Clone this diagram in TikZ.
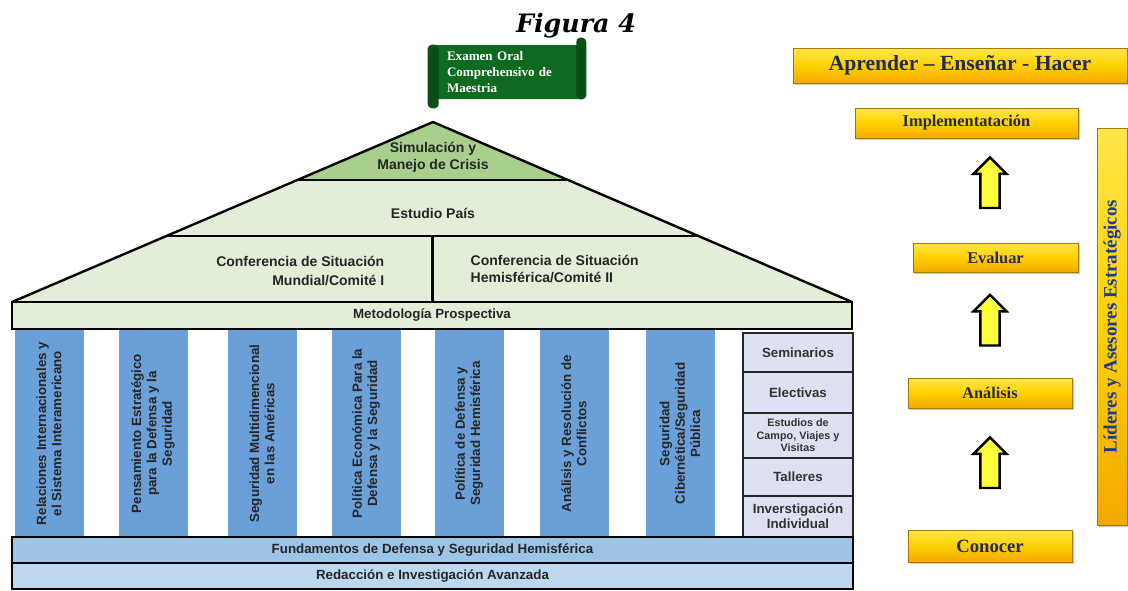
\documentclass[tikz,border=0pt]{standalone}
\usepackage{fontspec}
\setmainfont{Liberation Serif}
\newfontfamily\arialfont{Liberation Sans}
\newfontfamily\titlefont{DejaVu Serif}
\usetikzlibrary{calc,shapes.arrows,shadows}

\definecolor{roofgreen}{HTML}{E2EED8}
\definecolor{topgreen}{HTML}{A8CF8C}
\definecolor{pillarblue}{HTML}{6B9FD8}
\definecolor{basemid}{HTML}{9DC3E6}
\definecolor{baselight}{HTML}{BDD7EE}
\definecolor{sidelav}{HTML}{DDE1F1}
\definecolor{scrollgreen}{HTML}{0E6A1E}
\definecolor{goldtop}{HTML}{FFE74A}
\definecolor{goldmid}{HTML}{FFD000}
\definecolor{goldbot}{HTML}{F2A900}
\definecolor{arrowyellow}{HTML}{FFFF3C}
\definecolor{navytext}{HTML}{232A4E}
\definecolor{bluetext}{HTML}{1E3C8C}

\tikzset{
  pillar/.style={rotate=90,fill=pillarblue,minimum width=155pt,minimum height=51.75pt,inner sep=2pt,align=center,
    font=\arialfont\bfseries\fontsize{10}{11.5}\selectfont,text=black!85},
  sidebox/.style={draw=black!85,line width=1.4pt,fill=sidelav,minimum width=82.5pt,anchor=north,outer sep=0pt,
    align=center,inner sep=1pt,font=\arialfont\bfseries\fontsize{10}{11.3}\selectfont,text=black!80},
  baseband/.style={draw=black,line width=1.5pt,minimum width=630.75pt,minimum height=19.5pt,anchor=north,outer sep=0pt,
    inner sep=0pt,font=\arialfont\bfseries\fontsize{10}{12}\selectfont,text=black!85},
  roofline/.style={line width=1.8pt,line join=round},
  rooftext/.style={font=\arialfont\bfseries\fontsize{10.5}{13}\selectfont,text=black!85},
  scrollbox/.style={fill=scrollgreen,rounded corners=2pt,minimum width=114pt,minimum height=40.5pt,text width=93pt,
    inner xsep=10.5pt,align=left,text=white,font=\bfseries\fontsize{9.8}{12}\selectfont},
  goldbtn/.style={top color=goldtop,bottom color=goldbot,middle color=goldmid,draw=goldbot!70!black,line width=0.3pt,
    inner sep=0pt,outer sep=0pt,text=navytext,
    drop shadow={shadow xshift=1.2pt,shadow yshift=-1.5pt,opacity=0.35,fill=black!60}},
  upward/.style={single arrow,rotate=90,fill=arrowyellow,draw=black,line width=1.8pt,minimum height=38pt,inner sep=6.3pt,
    single arrow head extend=5.2pt,single arrow head indent=0pt}
}

\begin{document}
\begin{tikzpicture}[x=0.75pt,y=-0.75pt]
  \useasboundingbox (0,0) rectangle (1128,590);

  % title and exam banner
  \node[font=\titlefont\bfseries\itshape\fontsize{19}{22}\selectfont,anchor=base] (title) at (576,32) {Figura 4};
  \node[scrollbox] (exam) at (509,72) {Examen Oral\\Comprehensivo de\\Maestria};
  \fill[scrollgreen!75!black,rounded corners=3pt] ($(exam.north west)+(-5,0)$) rectangle ($(exam.south west)+(6,9)$);
  \fill[scrollgreen!75!black,rounded corners=3pt] ($(exam.north east)+(-9,-7)$) rectangle ($(exam.south east)+(1,0)$);

  % roof
  \coordinate (eaveL) at (12,302);
  \coordinate (apex) at (433,122);
  \coordinate (eaveR) at (852,302);
  \coordinate (simL) at ($(eaveL)!0.678!(apex)$);
  \coordinate (simR) at ($(eaveR)!0.678!(apex)$);
  \coordinate (paisL) at ($(eaveL)!0.367!(apex)$);
  \coordinate (paisR) at ($(eaveR)!0.367!(apex)$);
  \coordinate (split) at ($(paisL)!0.5!(paisR)$);
  \fill[roofgreen] (eaveL) -- (apex) -- (eaveR) -- cycle;
  \fill[topgreen] (simL) -- (apex) -- (simR) -- cycle;
  \draw[roofline] (simL) -- (simR);
  \draw[roofline] (paisL) -- (paisR);
  \draw[roofline] (split) -- (split |- eaveL);
  \draw[roofline] (eaveL) -- (apex) -- (eaveR);
  \node[rooftext,align=center] (simulacion) at (433,157) {Simulación y\\Manejo de Crisis};
  \node[rooftext] (pais) at (433,213) {Estudio País};
  \node[rooftext,align=right,anchor=east,font=\arialfont\bfseries\fontsize{10.5}{14.5}\selectfont] (mundial) at (389,271) {Conferencia de Situación\\Mundial/Comité I};
  \node[rooftext,align=left,anchor=west,font=\arialfont\bfseries\fontsize{10.5}{12.5}\selectfont] (hemisferica) at (466,269) {Conferencia de Situación\\Hemisférica/Comité II};
  \node[draw,line width=1.8pt,fill=roofgreen,minimum width=630pt,minimum height=20.25pt,outer sep=0pt,inner sep=0pt,
    font=\arialfont\bfseries\fontsize{10}{12}\selectfont,text=black!85] (metodologia) at (432,315.5) {Metodología Prospectiva};

  % pillars
  \foreach \cx/\txt [count=\i] in {49/{Relaciones Internacionales y\\el Sistema Interamericano},
      153/{Pensamiento Estratégico\\para la Defensa y la\\Seguridad},
      262/{Seguridad Multidimencional\\en las Américas},
      366/{Política Económica Para la\\Defensa y la Seguridad},
      469/{Política de Defensa y\\Seguridad Hemisférica},
      574/{Análisis y Resolución de\\Conflictos},
      680/{Seguridad\\Cibernética/Seguridad\\Pública}}
    \node[pillar] (pillar\i) at (\cx,433.5) {\txt};

  % side activities
  \node[sidebox,minimum height=29.25pt] (seminarios) at (798,333) {Seminarios};
  \node[sidebox,minimum height=30.75pt] (electivas) at (seminarios.south) {Electivas};
  \node[sidebox,minimum height=33.75pt,font=\arialfont\bfseries\fontsize{8.1}{9.4}\selectfont] (estudios) at (electivas.south) {Estudios de\\Campo, Viajes y\\Visitas};
  \node[sidebox,minimum height=28.5pt] (talleres) at (estudios.south) {Talleres};
  \node[sidebox,minimum height=30.75pt] (investigacion) at (talleres.south) {Inverstigación\\Individual};

  % foundations
  \node[baseband,fill=basemid] (fundamentos) at (432.5,537) {Fundamentos de Defensa y Seguridad Hemisférica};
  \node[baseband,fill=baselight] (redaccion) at (fundamentos.south) {Redacción e Investigación Avanzada};

  % learning cycle
  \node[goldbtn,minimum width=250.5pt,minimum height=26.25pt,font=\bfseries\fontsize{16.2}{19}\selectfont] (aprender) at (960,65.5) {Aprender -- Enseñar - Hacer};
  \node[goldbtn,minimum width=167.25pt,minimum height=22.5pt,font=\bfseries\fontsize{12.3}{14}\selectfont] (implementacion) at (966.5,123) {Implementatación};
  \node[goldbtn,minimum width=123.75pt,minimum height=21.75pt,font=\bfseries\fontsize{12.3}{14}\selectfont] (evaluar) at (995.5,257.5) {Evaluar};
  \node[goldbtn,minimum width=123pt,minimum height=22.5pt,font=\bfseries\fontsize{12.2}{14}\selectfont] (analisis) at (990,393) {Análisis};
  \node[goldbtn,minimum width=123pt,minimum height=24pt,font=\bfseries\fontsize{14}{16}\selectfont] (conocer) at (990,546) {Conocer};
  \node[goldbtn,rotate=90,minimum width=297.75pt,minimum height=22.5pt,text=bluetext,font=\bfseries\fontsize{14.2}{16}\selectfont] (lideres) at (1112,326.5) {Líderes y Asesores Estratégicos};
  \node[upward] (up1) at (990,187.5) {};
  \node[upward] (up2) at (990,325) {};
  \node[upward] (up3) at (990,467.5) {};
\end{tikzpicture}
\end{document}
